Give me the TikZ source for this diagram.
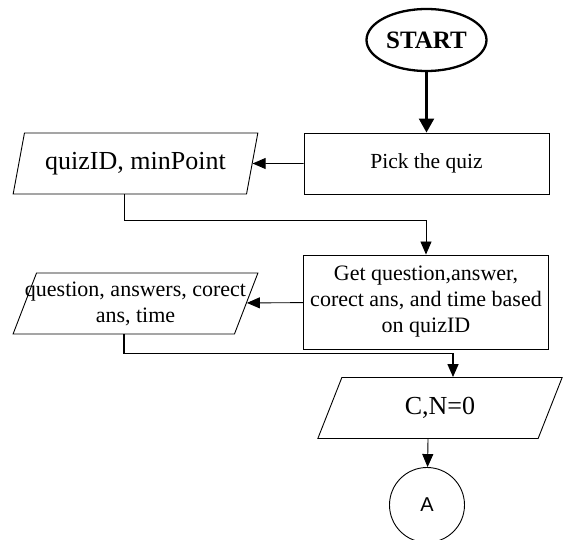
\documentclass[tikz,border=0pt]{standalone}
\usepackage{fontspec}
\setmainfont{Liberation Serif}
\newfontfamily\sansA{Liberation Sans}
\usetikzlibrary{shapes.geometric,arrows.meta}

\begin{document}
\begin{tikzpicture}[x=1pt,y=-1pt,line width=0.9pt,
  box/.style={draw,rectangle,minimum width=245pt,inner sep=2pt,align=center},
  io/.style={draw,trapezium,trapezium left angle=68,trapezium right angle=112,trapezium stretches=true,minimum width=245pt,minimum height=61pt,inner sep=0pt,align=center},
  arr/.style={-{Triangle[length=13pt,width=11pt]}}]
\useasboundingbox (0,0) rectangle (563,540);
      \node[draw,ellipse,line width=2.3pt,minimum width=120pt,minimum height=62pt,inner sep=0pt,font=\fontsize{25}{28}\selectfont\bfseries] (start) at (426.5,40) {START};
      \node[box,minimum height=61pt,font=\fontsize{21.5}{24}\selectfont] (pick) at (426.5,163.5) {Pick the quiz};
      \node[io,font=\fontsize{26}{29}\selectfont] (quiz) at (135.5,163.5) {quizID, minPoint};
      \node[box,minimum height=94pt,font=\fontsize{22}{26}\selectfont] (get) at (426,302) {Get question,answer,\\corect ans, and time based\\on quizID};
      \node[io,font=\fontsize{22}{26}\selectfont] (qa) at (135.5,303.5) {\makebox[150pt][c]{question, answers, corect}\\ans, time};
      \node[io,font=\fontsize{26}{29}\selectfont] (cn) at (440,408) {C,N=0};
      \node[draw,circle,minimum size=75pt,inner sep=0pt,font=\sansA\fontsize{20}{23}\selectfont] (conA) at (427,505) {A};
      \draw[line width=2.3pt,-{Triangle[length=14pt,width=15pt]}] (start) -- (pick);
      \draw[arr] (pick) -- (quiz);
      \draw[arr] ([xshift=-11.5pt]quiz.south) -- ++(0,26) -| (get.north);
      \draw[arr] (get) -- (qa);
      \draw[arr,line width=1.4pt] ([xshift=-11.5pt]qa.south) -- ++(0,19) -| ([xshift=13pt]cn.north);
      \draw[arr] ([xshift=-12pt]cn.south) -- (conA);
\end{tikzpicture}
\end{document}
